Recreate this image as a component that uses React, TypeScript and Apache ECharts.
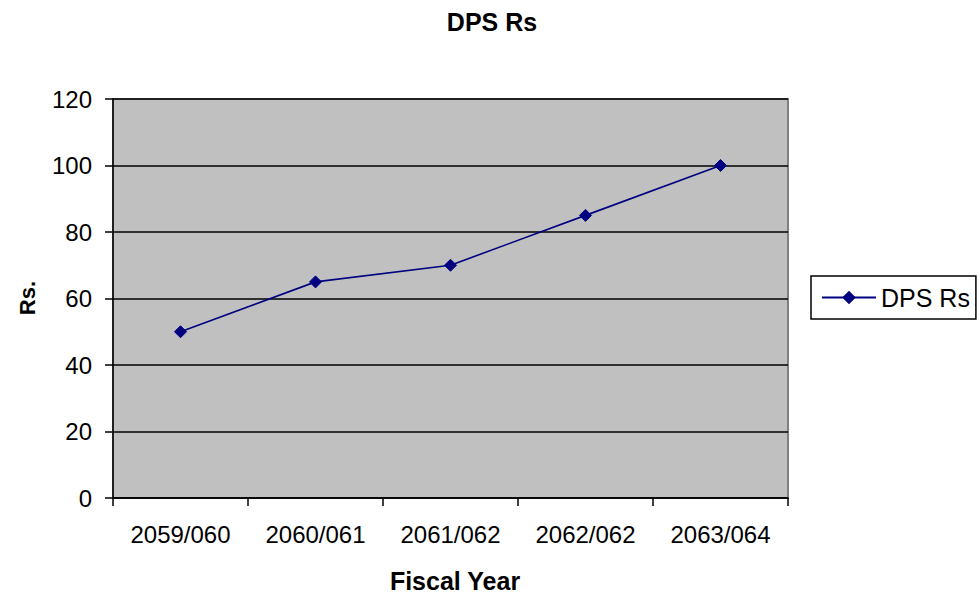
import React, { useEffect, useRef } from "react";
import * as echarts from "echarts";

// Dividend per share by fiscal year
const fiscalYears = ["2059/060", "2060/061", "2061/062", "2062/062", "2063/064"];
const dpsValues = [50, 65, 70, 85, 100];
const seriesName = "DPS Rs";

const FONT = "Liberation Sans, Arial, Helvetica, sans-serif";
const NAVY = "#000080";

export default function App() {
  const ref = useRef<HTMLDivElement>(null);

  useEffect(() => {
    if (!ref.current) return;
    const chart = echarts.init(ref.current, null, { renderer: "svg" });
    chart.setOption({
      animation: false,
      backgroundColor: "#ffffff",
      textStyle: { fontFamily: FONT },
      title: {
        text: "DPS Rs",
        left: 487,
        textAlign: "center",
        top: 4,
        textStyle: { fontFamily: FONT, fontSize: 25, fontWeight: "bold", color: "#000" },
      },
      legend: {
        orient: "vertical",
        left: 811,
        top: 276,
        padding: [9, 6, 9, 10],
        borderColor: "#000",
        borderWidth: 1.5,
        itemWidth: 54,
        itemHeight: 17,
        textStyle: { fontFamily: FONT, fontSize: 25, color: "#000" },
        data: [seriesName],
      },
      grid: {
        left: 113,
        right: 192,
        top: 99,
        bottom: 98,
        containLabel: false,
        show: true,
        backgroundColor: "#c0c0c0",
        borderColor: "#808080",
        borderWidth: 2,
      },
      xAxis: {
        type: "category",
        data: fiscalYears,
        boundaryGap: true,
        axisLine: { show: true, lineStyle: { color: "#000", width: 1.5 } },
        axisTick: { show: true, interval: 0, length: 8, alignWithLabel: false, lineStyle: { color: "#000", width: 1.5 } },
        axisLabel: { interval: 0, margin: 24, fontFamily: FONT, fontSize: 24, color: "#000" },
        splitLine: { show: false },
      },
      yAxis: {
        type: "value",
        min: 0,
        max: 120,
        interval: 20,
        axisLine: { show: true, lineStyle: { color: "#000", width: 1.5 } },
        axisTick: { show: true, length: 8, lineStyle: { color: "#000", width: 1.5 } },
        axisLabel: { margin: 21, fontFamily: FONT, fontSize: 24, color: "#000" },
        splitLine: { show: true, lineStyle: { color: "#000", width: 1.5 } },
      },
      graphic: [
        {
          type: "text",
          x: 27,
          y: 298,
          rotation: Math.PI / 2,
          style: {
            text: "Rs.",
            font: `bold 22px ${FONT}`,
            fill: "#000",
            textAlign: "center",
            textVerticalAlign: "middle",
          },
        },
        {
          type: "text",
          x: 455,
          y: 581,
          style: {
            text: "Fiscal Year",
            font: `bold 25px ${FONT}`,
            fill: "#000",
            textAlign: "center",
            textVerticalAlign: "middle",
          },
        },
      ],
      series: [
        {
          name: seriesName,
          type: "line",
          data: dpsValues,
          symbol: "diamond",
          symbolSize: 12,
          showAllSymbol: true,
          lineStyle: { color: NAVY, width: 1.6 },
          itemStyle: { color: NAVY, borderColor: NAVY },
        },
      ],
    });
    return () => chart.dispose();
  }, []);

  return (
    <div
      ref={ref}
      style={{ position: "fixed", left: 0, top: 0, width: 980, height: 596 }}
    />
  );
}
